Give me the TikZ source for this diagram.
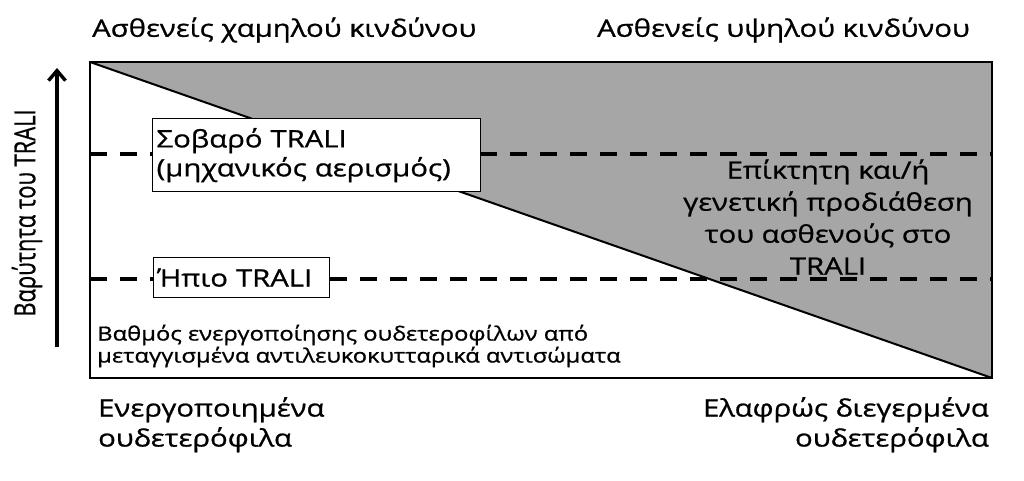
\documentclass[tikz,border=0pt]{standalone}
\usepackage{fontspec}
\setmainfont{Open Sans}[FakeStretch=1.22, FakeBold=0.9]
\usetikzlibrary{positioning,arrows.meta}

\begin{document}
\begin{tikzpicture}[x=1pt,y=-1pt,
    tag/.style={font=\fontsize{24}{30}\selectfont, inner sep=0pt},
    grade/.style={draw, fill=white, line width=1.2pt, font=\fontsize{24}{29}\selectfont, align=left, anchor=north west, inner sep=4pt},
    level/.style={line width=3.6pt, dash pattern=on 17pt off 13pt}]
  \useasboundingbox (0,0) rectangle (1024,481);
  \coordinate (tl) at (90,62);
  \coordinate (tr) at (992,62);
  \coordinate (br) at (992,378);
  \coordinate (bl) at (90,378);
  % risk triangle
  \fill[gray!70] (tl) -- (tr) -- (br) -- cycle;
  \draw[line width=2pt] (tl) -- (br);
  % severity levels
  \coordinate (sa) at (90,154);
  \coordinate (sb) at (992,154);
  \coordinate (ma) at (90,279);
  \coordinate (mb) at (992,279);
  \draw[level] (sa) -- (sb);
  \draw[level] (ma) -- (mb);
  \draw[line width=2.4pt] (tl) rectangle (br);
  \node[grade, minimum width=328pt, minimum height=73pt, text width=320pt] (severe) at (152,118) {Σοβαρό TRALI\\(μηχανικός αερισμός)};
  \node[grade, minimum width=176pt, minimum height=40pt, text width=168pt] (mild) at (153,257) {Ήπιο TRALI};
  \node[tag, align=center, font=\fontsize{24}{32}\selectfont] (prone) at (828,217) {Επίκτητη και/ή\\γενετική προδιάθεση\\του ασθενούς στο\\TRALI};
  \node[tag, anchor=west, align=left, font=\fontsize{19.5}{22}\selectfont] (activ) at (97,346) {Βαθμός ενεργοποίησης ουδετεροφίλων από\\μεταγγισμένα αντιλευκοκυτταρικά αντισώματα};
  % risk groups
  \node[tag, anchor=west] (low) at (92,30) {Ασθενείς χαμηλού κινδύνου};
  \node[tag, anchor=east] (high) at (970,30) {Ασθενείς υψηλού κινδύνου};
  \node[tag, align=left, below right=19pt and 8pt of bl] (active) {Ενεργοποιημένα\\ουδετερόφιλα};
  \node[tag, align=right, below left=19pt and 3pt of br] (primed) {Ελαφρώς διεγερμένα\\ουδετερόφιλα};
  % severity axis
  \coordinate (ya) at (57,347);
  \coordinate (yb) at (57,68);
  \draw[line width=3.4pt, -{Straight Barb[length=10pt,width=17pt]}] (ya) -- (yb);
  \node[tag, rotate=90, xscale=0.62, font=\fontsize{29}{30}\selectfont] (axis) at (27,213) {Βαρύτητα του TRALI};
\end{tikzpicture}
\end{document}
